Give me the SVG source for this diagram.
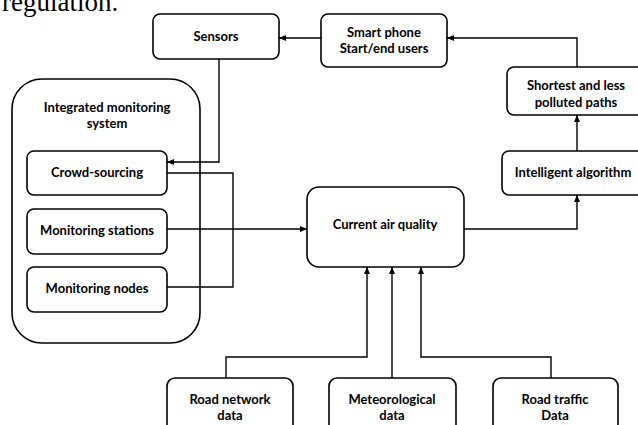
<svg xmlns="http://www.w3.org/2000/svg" width="638" height="425" viewBox="0 0 638 425">
<style>
.box{fill:#fff;stroke:#000;stroke-width:1.6}
.lbl{font-family:Lato,"Open Sans","Liberation Sans",sans-serif;font-weight:bold;font-size:13px;fill:#000;text-anchor:middle}
.cn{fill:none;stroke:#000;stroke-width:1.4}
</style>
<defs>
<marker id="ah" markerWidth="8" markerHeight="8" refX="7" refY="4" orient="auto" markerUnits="userSpaceOnUse">
<path d="M0,1 L7,4 L0,7 Z" fill="#000"/>
</marker>
</defs>
<rect width="638" height="425" fill="#fff"/>
<text x="2" y="11" font-family="Liberation Serif,serif" font-size="27" fill="#000">regulation.</text>

<g id="connectors">
<path class="cn" d="M321,38 H279" marker-end="url(#ah)"/>
<path class="cn" d="M577,67 V38 H447" marker-end="url(#ah)"/>
<path class="cn" d="M577,151 V115" marker-end="url(#ah)"/>
<path class="cn" d="M464,229 H577 V195" marker-end="url(#ah)"/>
<path class="cn" d="M219,59 V162 H167" marker-end="url(#ah)"/>
<path class="cn" d="M167,173 H233 V287 H167"/>
<path class="cn" d="M167,229 H307" marker-end="url(#ah)"/>
<path class="cn" d="M226,378 V357 H367 V267" marker-end="url(#ah)"/>
<path class="cn" d="M392,378 V267" marker-end="url(#ah)"/>
<path class="cn" d="M551,378 V357 H421 V267" marker-end="url(#ah)"/>
</g>

<g id="integrated">
<rect class="box" x="12" y="79" width="188" height="264" rx="30" style="fill:none"/>
<text class="lbl" x="107" y="112">Integrated monitoring</text>
<text class="lbl" x="107" y="128">system</text>
</g>
<g id="sensors">
<rect class="box" x="153" y="14" width="126" height="45" rx="7"/>
<text class="lbl" x="216" y="41">Sensors</text>
</g>
<g id="smartphone">
<rect class="box" x="321" y="14" width="126" height="53" rx="7"/>
<text class="lbl" x="384" y="37">Smart phone</text>
<text class="lbl" x="384" y="53">Start/end users</text>
</g>
<g id="shortest">
<rect class="box" x="507" y="67" width="140" height="48" rx="7"/>
<text class="lbl" x="576" y="90">Shortest and less</text>
<text class="lbl" x="576" y="107">polluted paths</text>
</g>
<g id="intelligent">
<rect class="box" x="502" y="151" width="145" height="44" rx="7"/>
<text class="lbl" x="573" y="177">Intelligent algorithm</text>
</g>
<g id="current">
<rect class="box" x="307" y="187" width="157" height="80" rx="12"/>
<text class="lbl" x="385" y="229">Current air quality</text>
</g>
<g id="crowd">
<rect class="box" x="27" y="151" width="140" height="44" rx="7"/>
<text class="lbl" x="97" y="177">Crowd-sourcing</text>
</g>
<g id="stations">
<rect class="box" x="27" y="209" width="140" height="45" rx="7"/>
<text class="lbl" x="97" y="235">Monitoring stations</text>
</g>
<g id="nodes">
<rect class="box" x="27" y="267" width="140" height="45" rx="7"/>
<text class="lbl" x="97" y="293">Monitoring nodes</text>
</g>
<g id="roadnetwork">
<rect class="box" x="167" y="378" width="126" height="60" rx="8"/>
<text class="lbl" x="230" y="404">Road network</text>
<text class="lbl" x="230" y="420">data</text>
</g>
<g id="meteo">
<rect class="box" x="329" y="378" width="127" height="60" rx="8"/>
<text class="lbl" x="392" y="404">Meteorological</text>
<text class="lbl" x="392" y="420">data</text>
</g>
<g id="roadtraffic">
<rect class="box" x="493" y="378" width="125" height="60" rx="8"/>
<text class="lbl" x="555" y="404">Road traffic</text>
<text class="lbl" x="555" y="420">Data</text>
</g>
</svg>
